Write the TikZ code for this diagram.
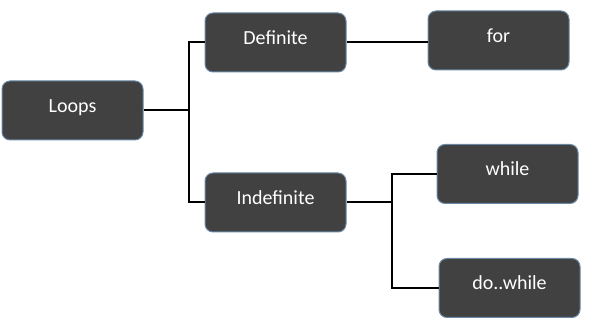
\documentclass[tikz,border=0pt]{standalone}
\usepackage{fontspec}
\setmainfont{Carlito}
\usepackage{xcolor}
\definecolor{cBox}{HTML}{414141}
\definecolor{cEdge}{HTML}{6A88A6}
\definecolor{cLine}{HTML}{000000}
\usepackage{tikz}
\usetikzlibrary{positioning}
\tikzset{
  node-box/.style={draw=cEdge,line width=0.5pt,fill=cBox,rounded corners=4pt,
    minimum height=29.5pt,minimum width=70.5pt,align=center,
    text=white,font=\normalsize,text height=7pt,text depth=5pt},
  link/.style={draw=cLine,line width=1pt},
}

\begin{document}
\begin{tikzpicture}[node distance=30pt]
  \useasboundingbox (0,0) rectangle (300pt,-162pt);
  \node[node-box] (loops) at (36.25pt,-55.25pt) {Loops};
  \node[node-box,right=30.5pt of loops,yshift=34pt]   (definite)   {Definite};
  \node[node-box,right=30.5pt of loops,yshift=-46pt]  (indefinite) {Indefinite};
  \node[node-box,right=40.5pt of definite,yshift=1pt] (for)        {for};
  \node[node-box,right=45pt of indefinite,yshift=14.25pt]  (while)   {while};
  \node[node-box,right=46pt of indefinite,yshift=-42.75pt] (dowhile) {do..while};
  % Loops -> Definite / Indefinite
  \coordinate[right=22.5pt of loops] (split-a);
  \draw[link] (loops) -- (split-a);
  \draw[link] (split-a) |- (definite);
  \draw[link] (split-a) |- (indefinite);
  % Definite -> for
  \draw[link] (definite) -- (definite.east -| for.west);
  % Indefinite -> while / do..while
  \coordinate[right=22.5pt of indefinite] (split-b);
  \draw[link] (indefinite) -- (split-b);
  \draw[link] (split-b) |- (while);
  \draw[link] (split-b) |- (dowhile);
\end{tikzpicture}
\end{document}
